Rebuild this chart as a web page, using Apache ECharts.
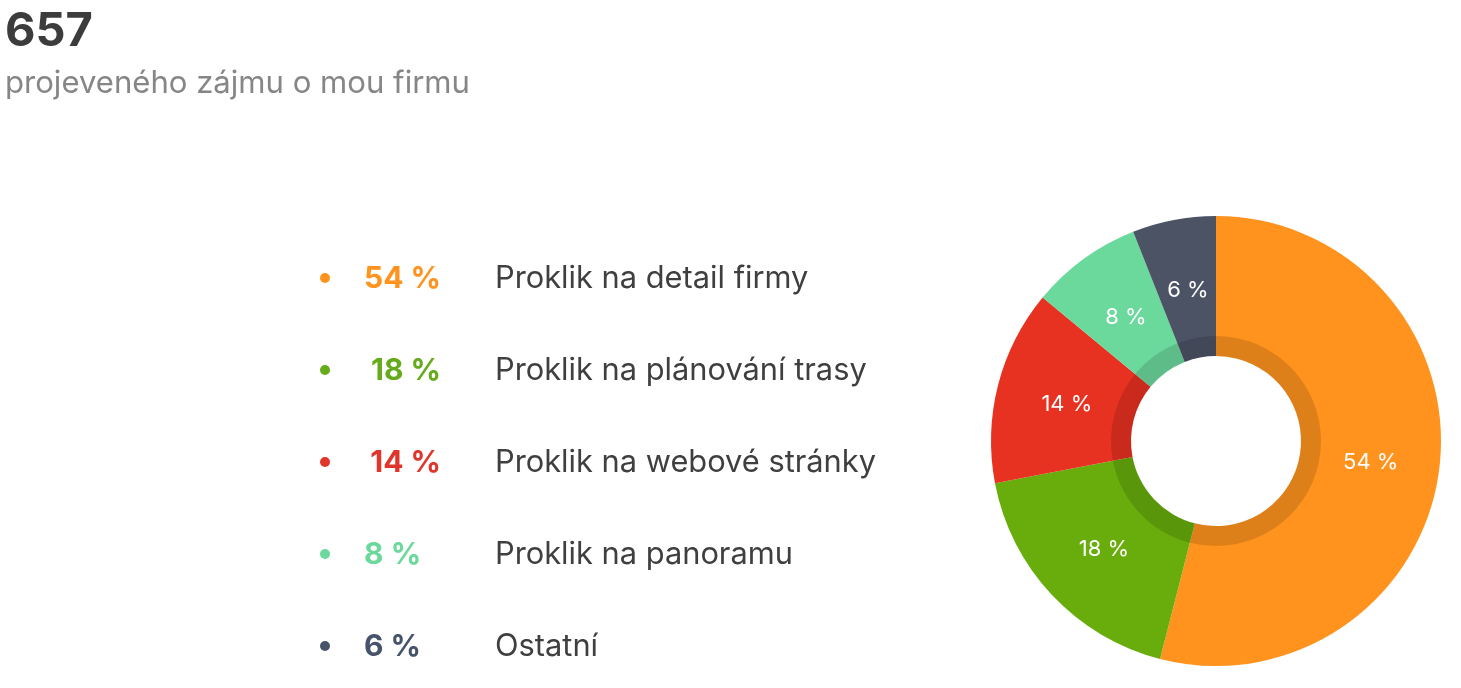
<!DOCTYPE html>
<html><head><meta charset="utf-8">
<style>html,body{margin:0;padding:0;background:#fff}#c{width:1461px;height:688px}</style>
<script src="https://cdn.jsdelivr.net/npm/echarts@6/dist/echarts.min.js"></script></head>
<body><div id="c"></div>
<script>
const categories=['Proklik na detail firmy','Proklik na plánování trasy','Proklik na webové stránky','Proklik na panoramu','Ostatní'];
const values=[54,18,14,8,6];
const colors=['#ff931e','#68ad0c','#e73121','#6bd89c','#4c5365'];
const legendColors=['#ff931e','#66ab1c','#e0352a','#6bd89c','#47536a'];
const total='657';
const subtitle='projeveného zájmu o mou firmu';
const FONT='Inter,"Noto Sans",sans-serif';
const cx=1216,cy=441,rO=225,rI=85,rRing=105;
const rows=[279,371,463,555,647];
const dots=[278,370,462,554,646];
const pctX=[441,441,441,364,364];
const chart=echarts.init(document.getElementById('c'),null,{renderer:'canvas'});
const graphic=[
 {type:'text',x:5,y:32,style:{text:total,font:'700 47px '+FONT,fill:'#3c3c3c',verticalAlign:'middle'}},
 {type:'text',x:5,y:84,style:{text:subtitle,font:'31.1px '+FONT,fill:'#868686',verticalAlign:'middle'}}
];
categories.forEach((n,i)=>{
 graphic.push({type:'circle',shape:{cx:325,cy:dots[i],r:5},style:{fill:legendColors[i]}});
 graphic.push({type:'text',x:pctX[i],y:rows[i],style:{text:values[i]+' %',font:'700 30px '+FONT,fill:legendColors[i],align:i<3?'right':'left',verticalAlign:'middle'}});
 graphic.push({type:'text',x:495,y:rows[i],style:{text:n,font:'30.8px '+FONT,fill:'#3f3f3f',verticalAlign:'middle'}});
});
const data=categories.map((n,i)=>({name:n,value:values[i],itemStyle:{color:colors[i]}}));
chart.setOption({animation:false,graphic,series:[
 {type:'pie',center:[cx,cy],radius:[rI,rO],startAngle:90,clockwise:true,data,silent:true,label:{show:false},labelLine:{show:false}},
 {type:'pie',center:[cx,cy],radius:[rI,rRing],startAngle:90,clockwise:true,silent:true,z:5,label:{show:false},labelLine:{show:false},
  data:categories.map((n,i)=>({name:n,value:values[i],itemStyle:{color:'rgba(0,0,0,0.13)'}}))},
 {type:'pie',center:[cx,cy],radius:[rI-6,rO],startAngle:90,clockwise:true,silent:true,z:6,
  data:categories.map((n,i)=>({name:n,value:values[i],itemStyle:{color:'transparent'}})),
  label:{show:true,position:'inside',formatter:p=>p.value+' %',color:'#fff',fontFamily:'Inter,"Noto Sans",sans-serif',fontSize:22,offset:[1,2]},labelLine:{show:false}}
]});
</script></body></html>
